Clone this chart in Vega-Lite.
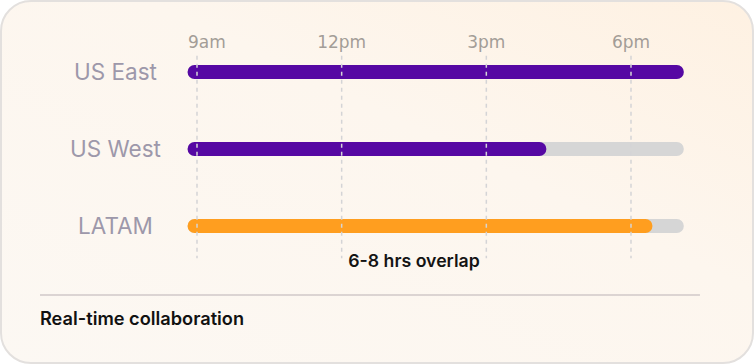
{
  "$schema": "https://vega.github.io/schema/vega-lite/v6.json",
  "width": 754,
  "height": 364,
  "autosize": {"type": "fit", "contains": "padding"},
  "padding": 1,
  "background": "#ffffff",
  "config": {
    "view": {
      "fill": {
        "gradient": "linear",
        "x1": 0, "y1": 1, "x2": 1, "y2": 0,
        "stops": [
          {"offset": 0, "color": "#fcf8f3"},
          {"offset": 0.6, "color": "#fdf6ee"},
          {"offset": 1, "color": "#fef1e2"}
        ]
      },
      "stroke": "#e3e0de",
      "strokeWidth": 2,
      "cornerRadius": 30
    },
    "text": {"font": "Inter"}
  },
  "datasets": {
    "regions": [
      {"region": "US East", "row": 0, "dayStart": 8.95, "dayEnd": 18.95, "onlineEnd": 18.95},
      {"region": "US West", "row": 1, "dayStart": 8.95, "dayEnd": 18.95, "onlineEnd": 16.1},
      {"region": "LATAM", "row": 2, "dayStart": 8.95, "dayEnd": 18.95, "onlineEnd": 18.3}
    ],
    "ticks": [
      {"hour": 9, "label": "9am", "first": true},
      {"hour": 12, "label": "12pm", "first": false},
      {"hour": 15, "label": "3pm", "first": false},
      {"hour": 18, "label": "6pm", "first": false}
    ]
  },
  "layer": [
    {
      "data": {"name": "regions"},
      "mark": {"type": "rule", "strokeWidth": 14, "strokeCap": "round", "color": "#d6d6d6"},
      "encoding": {
        "x": {"field": "dayStart", "type": "quantitative", "scale": {"domain": [4.9355, 20.53], "nice": false, "zero": false}, "axis": null},
        "x2": {"field": "dayEnd"},
        "y": {"field": "row", "type": "quantitative", "scale": {"domain": [-0.922, 3.779], "reverse": true, "nice": false, "zero": false}, "axis": null}
      }
    },
    {
      "data": {"name": "regions"},
      "mark": {"type": "rule", "strokeWidth": 14, "strokeCap": "round"},
      "encoding": {
        "x": {"field": "dayStart", "type": "quantitative", "axis": null},
        "x2": {"field": "onlineEnd"},
        "y": {"field": "row", "type": "quantitative", "axis": null},
        "color": {"field": "region", "type": "nominal", "legend": null,
          "scale": {"domain": ["US East", "US West", "LATAM"], "range": ["#5608a3", "#5608a3", "#ff9e1f"]}}
      }
    },
    {
      "data": {"name": "ticks"},
      "mark": {"type": "rule", "color": "#d4d4d6", "strokeWidth": 1.5, "strokeDash": [4, 4]},
      "encoding": {
        "x": {"field": "hour", "type": "quantitative", "axis": null},
        "y": {"datum": -0.21, "type": "quantitative", "axis": null},
        "y2": {"datum": 2.42}
      }
    },
    {
      "data": {"name": "ticks"},
      "transform": [{"filter": "!datum.first"}],
      "mark": {"type": "text", "font": "DejaVu Sans", "fontSize": 17, "color": "#a39d97", "baseline": "middle", "align": "center"},
      "encoding": {
        "x": {"field": "hour", "type": "quantitative", "axis": null},
        "y": {"datum": -0.38, "type": "quantitative", "axis": null},
        "text": {"field": "label"}
      }
    },
    {
      "data": {"name": "ticks"},
      "transform": [{"filter": "datum.first"}],
      "mark": {"type": "text", "font": "DejaVu Sans", "fontSize": 17, "color": "#a39d97", "baseline": "middle", "align": "left", "dx": -9},
      "encoding": {
        "x": {"field": "hour", "type": "quantitative", "axis": null},
        "y": {"datum": -0.38, "type": "quantitative", "axis": null},
        "text": {"field": "label"}
      }
    },
    {
      "data": {"name": "regions"},
      "mark": {"type": "text", "fontSize": 22.5, "color": "#9d98aa", "baseline": "middle", "align": "center", "dx": -81.5, "dy": 1},
      "encoding": {
        "x": {"datum": 9, "type": "quantitative", "axis": null},
        "y": {"field": "row", "type": "quantitative", "axis": null},
        "text": {"field": "region"}
      }
    },
    {
      "data": {"values": [{"note": "6-8 hrs overlap"}]},
      "mark": {"type": "text", "fontSize": 17.7, "fontWeight": 600, "color": "#141414", "baseline": "middle", "align": "center"},
      "encoding": {
        "x": {"datum": 13.5, "type": "quantitative", "axis": null},
        "y": {"datum": 2.467, "type": "quantitative", "axis": null},
        "text": {"field": "note"}
      }
    },
    {
      "data": {"values": [{}]},
      "mark": {"type": "rule", "color": "#d0c9c9", "strokeWidth": 1.5},
      "encoding": {
        "x": {"datum": 5.744, "type": "quantitative", "axis": null},
        "x2": {"datum": 19.43},
        "y": {"datum": 2.896, "type": "quantitative", "axis": null}
      }
    },
    {
      "data": {"values": [{"caption": "Real-time collaboration"}]},
      "mark": {"type": "text", "fontSize": 18.2, "fontWeight": 600, "color": "#111111", "baseline": "middle", "align": "left"},
      "encoding": {
        "x": {"datum": 5.744, "type": "quantitative", "axis": null},
        "y": {"datum": 3.22, "type": "quantitative", "axis": null},
        "text": {"field": "caption"}
      }
    }
  ]
}
